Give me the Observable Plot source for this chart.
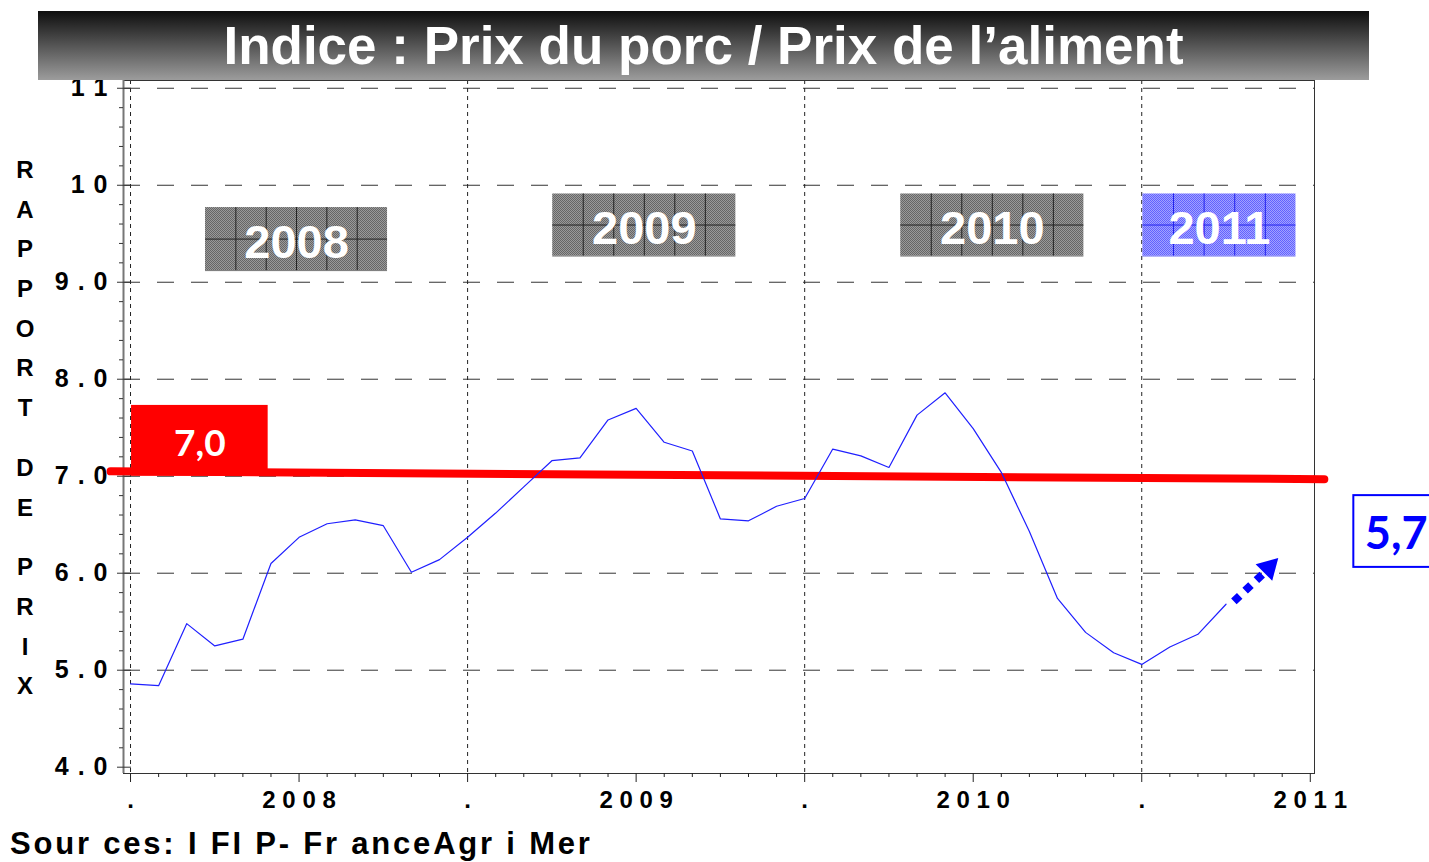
<!DOCTYPE html>
<html>
<head>
<meta charset="utf-8">
<script src="https://cdn.jsdelivr.net/npm/d3@7"></script>
<script src="https://cdn.jsdelivr.net/npm/@observablehq/plot@0.6"></script>
<style>
  body { margin: 0; background: #fff; }
  #wrap { position: relative; width: 1429px; height: 862px; overflow: hidden; background: #fff;
          font-family: "Liberation Sans", Arial, sans-serif; }
  #chart { position: absolute; left: 0; top: 0; }
  #banner { position: absolute; left: 38px; top: 11px; width: 1331px; height: 69px;
            background: linear-gradient(#0e0e0e, #9c9c9c); color: #fff; font-weight: bold;
            font-size: 53px; text-align: center; line-height: 69px; white-space: nowrap; }
  #ylabel { position: absolute; left: 13px; top: 150px; width: 24px; font-weight: bold; font-size: 24px; }
  #ylabel div { height: 39.7px; line-height: 39.7px; text-align: center; }
  #ylabel div.sp { height: 20px; }
  #source { position: absolute; left: 10px; top: 826px; font-weight: bold; font-size: 31px;
            letter-spacing: 2.8px; white-space: nowrap; line-height: 36px; }
</style>
</head>
<body>
<div id="wrap">
  <div id="chart"></div>
  <div id="banner"></div>
  <div id="ylabel"></div>
  <div id="source"></div>
</div>
<script>
// ---------- data ----------
const title = "Indice : Prix du porc / Prix de l’aliment";
const yAxisTitle = "RAPPORT DE PRIX";
const sourceText = "Sour ces: I FI P- Fr anceAgr i Mer";

const months = [
  "2008-01","2008-02","2008-03","2008-04","2008-05","2008-06","2008-07","2008-08","2008-09","2008-10","2008-11","2008-12",
  "2009-01","2009-02","2009-03","2009-04","2009-05","2009-06","2009-07","2009-08","2009-09","2009-10","2009-11","2009-12",
  "2010-01","2010-02","2010-03","2010-04","2010-05","2010-06","2010-07","2010-08","2010-09","2010-10","2010-11","2010-12",
  "2011-01","2011-02","2011-03","2011-04"
];
const ratio = [
  4.86, 4.84, 5.48, 5.25, 5.32, 6.10, 6.37, 6.51, 6.55, 6.49, 6.01, 6.14,
  6.37, 6.62, 6.89, 7.16, 7.19, 7.58, 7.70, 7.35, 7.26, 6.56, 6.54, 6.69,
  6.77, 7.28, 7.21, 7.09, 7.63, 7.86, 7.49, 7.04, 6.43, 5.74, 5.39, 5.18,
  5.06, 5.24, 5.37, 5.68
];
const yearLabels = ["2008", "2009", "2010", "2011"];
const threshold = 7.0;
const thresholdLabel = "7,0";
const currentLabel = "5,7";
const yTicks = [4, 5, 6, 7, 8, 9, 10, 11];
const yTickLabels = ["4 . 0", "5 . 0", "6 . 0", "7 . 0", "8 . 0", "9 . 0", "1 0", "1 1"];
const xTickLabels = [".", "2 0 0 8", ".", "2 0 0 9", ".", "2 0 1 0", ".", "2 0 1 1"];

// ---------- derived ----------
const monthIndex = m => { const [y, mo] = m.split("-").map(Number); return (y - 2008) * 12 + (mo - 1); };
const series = months.map((m, i) => ({t: monthIndex(m), v: ratio[i]}));
const xMajor = xTickLabels.map((_, i) => i * 6);
const xMinor = d3.range(0, 43).filter(d => d % 6 !== 0);
const yMinor = d3.range(4, 11.01, 0.2).map(d => +d.toFixed(1)).filter(d => Math.abs(d - Math.round(d)) > 0.01);
const yearStarts = [0, 12, 24, 36];

// ---------- annotation layout (data units) ----------
const boxLayout = [
  {x1: 2.67,  x2: 9.15,  y1: 9.12, y2: 9.77, cols: 6, tone: "gray"},
  {x1: 15.03, x2: 21.55, y1: 9.27, y2: 9.91, cols: 6, tone: "gray"},
  {x1: 27.42, x2: 33.94, y1: 9.27, y2: 9.91, cols: 6, tone: "gray"},
  {x1: 36.04, x2: 41.49, y1: 9.27, y2: 9.91, cols: 5, tone: "blue"}
];
const tones = {
  gray: {fill: "url(#ditherGray)", grid: "#222"},
  blue: {fill: "url(#ditherBlue)", grid: "#2424ee"}
};
const redLine = [{t: -0.71, v: 7.05}, {t: 42.5, v: 6.97}];
const redBox = {x1: 0.036, x2: 4.9, y1: 7.0, y2: 7.73};
const blueBox = {x1: 43.55, x2: 48, y1: 6.06, y2: 6.80};
const shaft = {x1: 39.28, y1: 5.71, x2: 40.34, y2: 6.0};
const head = {t: 40.52, v: 6.057};

// ---------- marks ----------
const boxMarks = boxLayout.flatMap((b, i) => {
  const s = tones[b.tone];
  const vlines = d3.range(1, b.cols).map(k => ({x: b.x1 + k * (b.x2 - b.x1) / b.cols, y1: b.y1, y2: b.y2}));
  return [
    Plot.rect([b], {x1: "x1", x2: "x2", y1: "y1", y2: "y2", fill: s.fill}),
    Plot.ruleX(vlines, {x: "x", y1: "y1", y2: "y2", stroke: s.grid, strokeWidth: 1}),
    Plot.ruleY([b], {y: d => (d.y1 + d.y2) / 2, x1: "x1", x2: "x2", stroke: s.grid, strokeWidth: 1}),
    Plot.ruleY([b], {y: "y1", x1: "x1", x2: "x2", stroke: s.grid, strokeOpacity: 0.6, strokeWidth: 1}),
    Plot.text([b], {x: d => (d.x1 + d.x2) / 2, y: d => (d.y1 + d.y2) / 2, text: () => yearLabels[i],
      fill: "white", fontSize: 47, fontWeight: "bold", dy: 3.5, lineAnchor: "middle"})
  ];
});

const chart = Plot.plot({
  width: 1429, height: 862,
  marginLeft: 123, marginRight: 115, marginTop: 80, marginBottom: 89,
  x: {domain: [-0.25, 42.15], axis: null},
  y: {domain: [3.935, 11.08], axis: null},
  style: {fontFamily: "'Liberation Sans', Arial, sans-serif", background: "transparent", color: "#000", overflow: "visible"},
  marks: [
    Plot.ruleY(yTicks.filter(d => d > 4), {y: d => d, stroke: "#333", strokeDasharray: "17,17", strokeWidth: 1}),
    Plot.ruleX(yearStarts, {x: d => d, stroke: "#222", strokeDasharray: "4,4", strokeWidth: 1}),
    Plot.frame({stroke: "#333"}),
    Plot.ruleX([-0.25], {x: d => d, stroke: "#777", strokeWidth: 2}),
    Plot.axisY({ticks: yMinor, tickSize: 4, fill: "none", label: null, stroke: "#333"}),
    Plot.axisY({ticks: yTicks, tickSize: 14, dx: 8, fill: "none", label: null, stroke: "#333"}),
    Plot.axisY({ticks: yTicks, tickSize: 0, tickPadding: 15, label: null, fontSize: 25, fontWeight: "bold",
      tickFormat: d => yTickLabels[yTicks.indexOf(d)]}),
    Plot.axisX({ticks: xMinor, tickSize: 4, fill: "none", label: null, stroke: "#222"}),
    Plot.axisX({ticks: xMajor, tickSize: 9, tickPadding: 8, label: null, fontSize: 24, fontWeight: "bold",
      stroke: "#222", tickFormat: d => xTickLabels[xMajor.indexOf(d)]}),
    ...boxMarks,
    Plot.line(redLine, {x: "t", y: "v", stroke: "#ff0000", strokeWidth: 8}),
    Plot.rect([redBox], {x1: "x1", x2: "x2", y1: "y1", y2: "y2", fill: "#ff0000"}),
    Plot.text([redBox], {x: d => (d.x1 + d.x2) / 2, y: d => (d.y1 + d.y2) / 2, text: () => thresholdLabel,
      fill: "white", fontSize: 37, fontWeight: "bold", fontFamily: "Lato, 'Open Sans', sans-serif", dy: 3.5, lineAnchor: "middle"}),
    Plot.line(series, {x: "t", y: "v", stroke: "#1f1fff", strokeWidth: 1.2}),
    Plot.link([shaft], {x1: "x1", y1: "y1", x2: "x2", y2: "y2", stroke: "#0000ff", strokeWidth: 8,
      strokeDasharray: "8,7.5", strokeLinecap: "butt"}),
    Plot.dot([head], {x: "t", y: "v", symbol: "triangle", r: 8.7, rotate: 45, fill: "#0000ff", stroke: "none"}),
    Plot.rect([blueBox], {x1: "x1", x2: "x2", y1: "y1", y2: "y2", fill: "white", stroke: "#0000ff", strokeWidth: 2}),
    Plot.text([blueBox], {x: d => d.x1, y: d => (d.y1 + d.y2) / 2, text: () => currentLabel, dx: 11,
      textAnchor: "start", fill: "#0000ff", fontSize: 45, fontWeight: "bold", fontFamily: "Lato, 'Open Sans', sans-serif",
      dy: 3, lineAnchor: "middle"})
  ]
});

// texture patterns for the year boxes
const defs = d3.select(chart).insert("defs", ":first-child");
function dither(id, base, dark) {
  const p = defs.append("pattern").attr("id", id).attr("width", 2).attr("height", 2).attr("patternUnits", "userSpaceOnUse");
  p.append("rect").attr("width", 2).attr("height", 2).attr("fill", base);
  p.append("rect").attr("width", 1).attr("height", 1).attr("fill", dark);
  p.append("rect").attr("x", 1).attr("y", 1).attr("width", 1).attr("height", 1).attr("fill", dark);
}
dither("ditherGray", "#9a9a9a", "#666666");
dither("ditherBlue", "#a2a2ff", "#6262ff");
d3.select(chart).selectAll("g[aria-label='y-axis tick label'] text").attr("letter-spacing", 1);

document.getElementById("chart").appendChild(chart);
document.getElementById("banner").textContent = title;
const yl = document.getElementById("ylabel");
for (const ch of yAxisTitle) {
  const d = document.createElement("div");
  if (ch === " ") d.className = "sp"; else d.textContent = ch;
  yl.appendChild(d);
}
document.getElementById("source").textContent = sourceText;
</script>
</body>
</html>
